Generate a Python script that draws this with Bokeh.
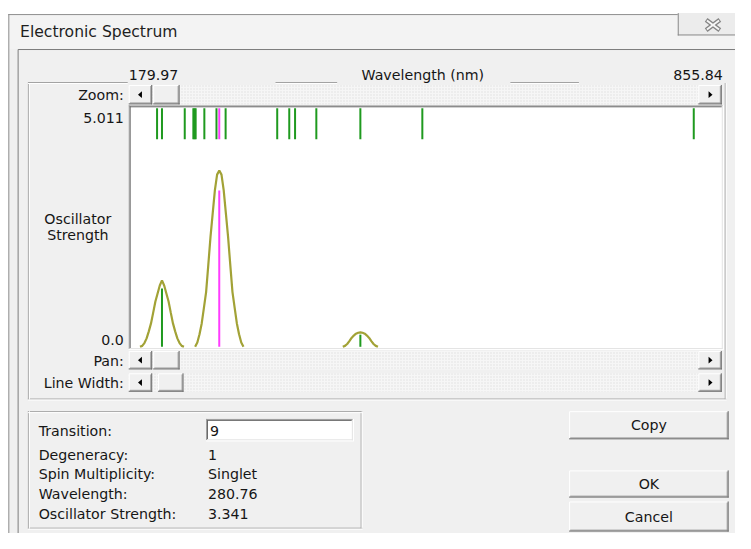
from bokeh.plotting import figure
from bokeh.models import Range1d, ColumnDataSource
from bokeh.embed import file_html
from bokeh.resources import INLINE
from bokeh.core.properties import value

# ---------------- chart data ----------------
dialog_title = "Electronic Spectrum"
x_title = "Wavelength (nm)"
wl_min = 179.97
wl_max = 855.84
x_tick_labels = ["179.97", "855.84"]
osc_max = 5.011
y_tick_labels = ["5.011", "0.0"]
y_title = ["Oscillator", "Strength"]

# every transition (wavelength nm, oscillator strength)
transition_wl = [210.0, 215.6, 241.5, 251.3, 252.6, 253.9, 263.8, 277.6, 280.76,
                 288.0, 346.7, 360.4, 367.0, 391.2, 441.3, 511.8, 820.6]
transition_f = [0.0, 1.245, 0.0, 0.0, 0.0, 0.0, 0.0, 0.0, 3.341,
                0.0, 0.0, 0.0, 0.0, 0.0, 0.26, 0.0, 0.0]
selected_transition = 9

# broadened spectrum
peak1_wl = [190.6, 193.1, 195.6, 198.1, 200.6, 203.1, 205.6, 208.1, 210.6, 213.1, 215.6,
            218.1, 220.6, 223.1, 225.6, 228.1, 230.6, 233.1, 235.6, 238.1, 240.6]
peak1_f = [0.0, 0.02, 0.08, 0.18, 0.33, 0.50, 0.73, 0.97, 1.14, 1.31, 1.42,
           1.31, 1.14, 0.97, 0.73, 0.50, 0.33, 0.18, 0.08, 0.02, 0.0]
peak2_wl = [253.3, 255.8, 258.3, 260.8, 263.3, 265.8, 268.3, 270.8, 273.3, 275.8, 278.3, 280.8,
            283.3, 285.8, 288.3, 290.8, 293.3, 295.8, 298.3, 300.8, 303.3, 305.8, 308.3]
peak2_f = [0.0, 0.09, 0.27, 0.50, 0.83, 1.17, 1.75, 2.35, 2.85, 3.35, 3.68, 3.77,
           3.68, 3.35, 2.85, 2.35, 1.75, 1.17, 0.83, 0.50, 0.27, 0.09, 0.0]
peak3_wl = [421.3, 423.8, 426.3, 428.8, 431.3, 433.8, 436.3, 438.8, 441.3,
            443.8, 446.3, 448.8, 451.3, 453.8, 456.3, 458.8, 461.3]
peak3_f = [0.0, 0.02, 0.06, 0.12, 0.19, 0.24, 0.28, 0.30, 0.31,
           0.30, 0.28, 0.24, 0.19, 0.12, 0.06, 0.02, 0.0]

slider_labels = ["Zoom:", "Pan:", "Line Width:"]
info_labels = ["Transition:", "Degeneracy:", "Spin Multiplicity:", "Wavelength:", "Oscillator Strength:"]
info_values = ["9", "1", "Singlet", "280.76", "3.341"]
button_labels = ["Copy", "OK", "Cancel"]

# ---------------- layout (pixels of the original dialog picture) ----------------
W, H = 735, 533            # canvas
REF_W, REF_H = 751, 549    # dialog picture mapped onto the canvas
PLOT_L, PLOT_R, PLOT_T, PLOT_B = 132, 737, 109, 358
WL_PX = (133.0, 740.0)      # pixels of wl_min / wl_max
OSC_PX = (356.7, 115.2)     # pixels of 0 / osc_max
TICK_TOP, TICK_BOT = 111, 143
FONT = value("DejaVu Sans")
FS = value("14.2px")
TXT = "#161616"
GREEN = "#1f9a1f"
MAGENTA = "#ff3cff"
OLIVE = "#a2a236"

p = figure(width=W, height=H, x_range=Range1d(0, REF_W), y_range=Range1d(REF_H, 0),
           output_backend="svg", toolbar_location=None, x_axis_type=None, y_axis_type=None,
           min_border=0, outline_line_color=None,
           background_fill_color="white", border_fill_color="white")

sx = (wl_max - wl_min) / (WL_PX[1] - WL_PX[0])
p.extra_x_ranges = {"wl": Range1d(wl_min - WL_PX[0] * sx, wl_max + (REF_W - WL_PX[1]) * sx)}
sy = osc_max / (OSC_PX[0] - OSC_PX[1])
p.extra_y_ranges = {"osc": Range1d(-(REF_H - OSC_PX[0]) * sy, OSC_PX[0] * sy)}

QUADS = []
SEGS = {}
TRIS = []


def quad(l, r, t, b, fill):
    QUADS.append((l, r, t, b, fill))


def seg(color, x0, y0, x1, y1):
    SEGS.setdefault(color, []).append((x0, y0, x1, y1))


def raised(l, r, t, b):
    quad(l, r, t, b, "#f0f0f0")
    seg("#ffffff", l + 0.5, t + 0.5, r - 1, t + 0.5)
    seg("#ffffff", l + 0.5, t + 0.5, l + 0.5, b - 1)
    seg("#696969", l, b - 0.5, r, b - 0.5)
    seg("#696969", r - 0.5, t, r - 0.5, b)
    seg("#a0a0a0", l + 1, b - 1.5, r - 1, b - 1.5)
    seg("#a0a0a0", r - 1.5, t + 1, r - 1.5, b - 1)


def sunken(l, r, t, b, fill=None):
    if fill:
        quad(l, r, t, b, fill)
    seg("#a0a0a0", l, t + 0.5, r - 1, t + 0.5)
    seg("#a0a0a0", l + 0.5, t, l + 0.5, b - 1)
    seg("#696969", l + 1, t + 1.5, r - 2, t + 1.5)
    seg("#696969", l + 1.5, t + 1, l + 1.5, b - 2)
    seg("#ffffff", l, b - 0.5, r, b - 0.5)
    seg("#ffffff", r - 0.5, t, r - 0.5, b)
    seg("#e3e3e3", l + 1, b - 1.5, r - 1, b - 1.5)
    seg("#e3e3e3", r - 1.5, t + 1, r - 1.5, b - 1)


def etched_h(x0, x1, y):
    seg("#a0a0a0", x0, y + 0.5, x1, y + 0.5)
    seg("#ffffff", x0, y + 1.5, x1, y + 1.5)


def etched_v(x, y0, y1):
    seg("#a0a0a0", x + 0.5, y0, x + 0.5, y1)
    seg("#ffffff", x + 1.5, y0, x + 1.5, y1)


# dialog body and title bar
quad(8, 770, 14, 560, "#f0f0f0")
quad(8, 770, 14, 50, "#f3f3f3")
seg("#8e8e8e", 8, 14.5, 692, 14.5)
seg("#8e8e8e", 8.5, 14, 8.5, 560)
seg("#7c7c7c", 18, 50.5, 770, 50.5)
seg("#7c7c7c", 18, 50.5, 18, 560)
# close button
quad(692, 770, 13, 36, "#ececec")
seg("#8a8a8a", 692.5, 13, 692.5, 36)
seg("#8a8a8a", 692, 35.5, 770, 35.5)

# plot group box (top edge broken by labels)
for a, b in [(28, 130), (281, 344), (521, 591)]:
    etched_h(a, b, 84)
etched_v(28, 85, 411)
etched_v(740, 85, 411)
etched_h(28, 742, 410)
# info group box
etched_h(28, 370, 423)
etched_h(28, 370, 543)
etched_v(28, 423, 544)
etched_v(368, 423, 544)

# scroll bars
SCROLL = [(87, 107, 156, 183), (361, 380, 156, 183), (384, 403, 161, 187)]
for t, b, tl, tr in SCROLL:
    QUADS.append((131, 737, t, b, "hatch"))
    raised(131, 155, t, b)
    raised(tl, tr, t, b)
    raised(713, 737, t, b)
    cy = (t + b) / 2
    TRIS.append(([140.5, 144.5, 144.5], [cy, cy - 3.5, cy + 3.5]))
    TRIS.append(([727.5, 723.5, 723.5], [cy, cy - 3.5, cy + 3.5]))

# plot area
sunken(PLOT_L - 1, PLOT_R + 2, PLOT_T - 1, PLOT_B + 2, "#ffffff")
# text box and buttons
sunken(210, 361, 431, 454, "#ffffff")
BUTTONS = [(581, 744, 423, 452), (581, 744, 484, 512), (581, 744, 516, 547)]
for l, r, t, b in BUTTONS:
    raised(l, r, t, b)

# ---- draw chrome ----
plain = [q for q in QUADS if q[4] != "hatch"]
hatch = [q for q in QUADS if q[4] == "hatch"]
first = plain[:3]
rest = plain[3:]
p.quad(left=[q[0] for q in first], right=[q[1] for q in first], top=[q[2] for q in first],
       bottom=[q[3] for q in first], fill_color=[q[4] for q in first], line_color=None)
p.quad(left=[q[0] for q in hatch], right=[q[1] for q in hatch], top=[q[2] for q in hatch],
       bottom=[q[3] for q in hatch], fill_color="#f6f6f6", line_color=None,
       hatch_pattern="dot", hatch_color="#dedede", hatch_scale=3, hatch_weight=1)
p.quad(left=[q[0] for q in rest], right=[q[1] for q in rest], top=[q[2] for q in rest],
       bottom=[q[3] for q in rest], fill_color=[q[4] for q in rest], line_color=None)
for color, ss in SEGS.items():
    p.segment(x0=[s[0] for s in ss], y0=[s[1] for s in ss], x1=[s[2] for s in ss],
              y1=[s[3] for s in ss], line_color=color, line_width=1)
p.patches(xs=[t[0] for t in TRIS], ys=[t[1] for t in TRIS], fill_color="#000000", line_color=None)
# close "X"
p.segment(x0=[721, 721], y0=[20, 30.5], x1=[735, 735], y1=[30.5, 20], line_color="#858585", line_width=4.5)
p.segment(x0=[721.8, 721.8], y0=[20.6, 29.9], x1=[734.2, 734.2], y1=[29.9, 20.6], line_color="#f6f6f6", line_width=2)

# ---- data ----
sel = selected_transition - 1
tcol = [MAGENTA if i == sel else GREEN for i in range(len(transition_wl))]
src = ColumnDataSource(dict(wl=transition_wl, c=tcol,
                            t0=[TICK_TOP] * len(transition_wl), t1=[TICK_BOT] * len(transition_wl)))
p.segment(x0="wl", x1="wl", y0="t0", y1="t1", line_color="c", line_width=2, source=src,
          x_range_name="wl")
for xs, ys in [(peak1_wl, peak1_f), (peak2_wl, peak2_f), (peak3_wl, peak3_f)]:
    p.line(xs, ys, line_color=OLIVE, line_width=2.2, x_range_name="wl", y_range_name="osc")
stick = [i for i, f in enumerate(transition_f) if f > 0]
ssrc = ColumnDataSource(dict(wl=[transition_wl[i] for i in stick], f=[transition_f[i] for i in stick],
                             zero=[0.0] * len(stick), c=[tcol[i] for i in stick]))
p.segment(x0="wl", x1="wl", y0="zero", y1="f", line_color="c", line_width=2, source=ssrc,
          x_range_name="wl", y_range_name="osc")


# ---- texts ----
def txt(x, y, s, align="left", size=FS, color=TXT):
    p.text(x=[x], y=[y], text=[s], text_align=align, text_baseline="middle",
           text_font=FONT, text_font_size=size, text_color=color)


txt(20, 32, dialog_title, size=value("15.6px"), color="#1e1e1e")
txt(131, 77, x_tick_labels[0])
txt(431.5, 77, x_title, align="center")
txt(738, 77, x_tick_labels[1], align="right")
txt(126, 121, y_tick_labels[0], align="right")
txt(126, 350, y_tick_labels[1], align="right")
txt(79, 225, y_title[0], align="center")
txt(79, 242, y_title[1], align="center")
for lab, (t, b, _, _) in zip(slider_labels, SCROLL):
    txt(126, (t + b) / 2 + 0.5, lab, align="right")
info_y = [443, 468, 488, 508, 529]
for lab, val, y in zip(info_labels, info_values, info_y):
    txt(39, y, lab)
    txt(214 if lab == "Transition:" else 212, y, val)
for lab, (l, r, t, b) in zip(button_labels, BUTTONS):
    txt((l + r) / 2, (t + b) / 2, lab, align="center")

open("out.html", "w").write(file_html(p, INLINE))
